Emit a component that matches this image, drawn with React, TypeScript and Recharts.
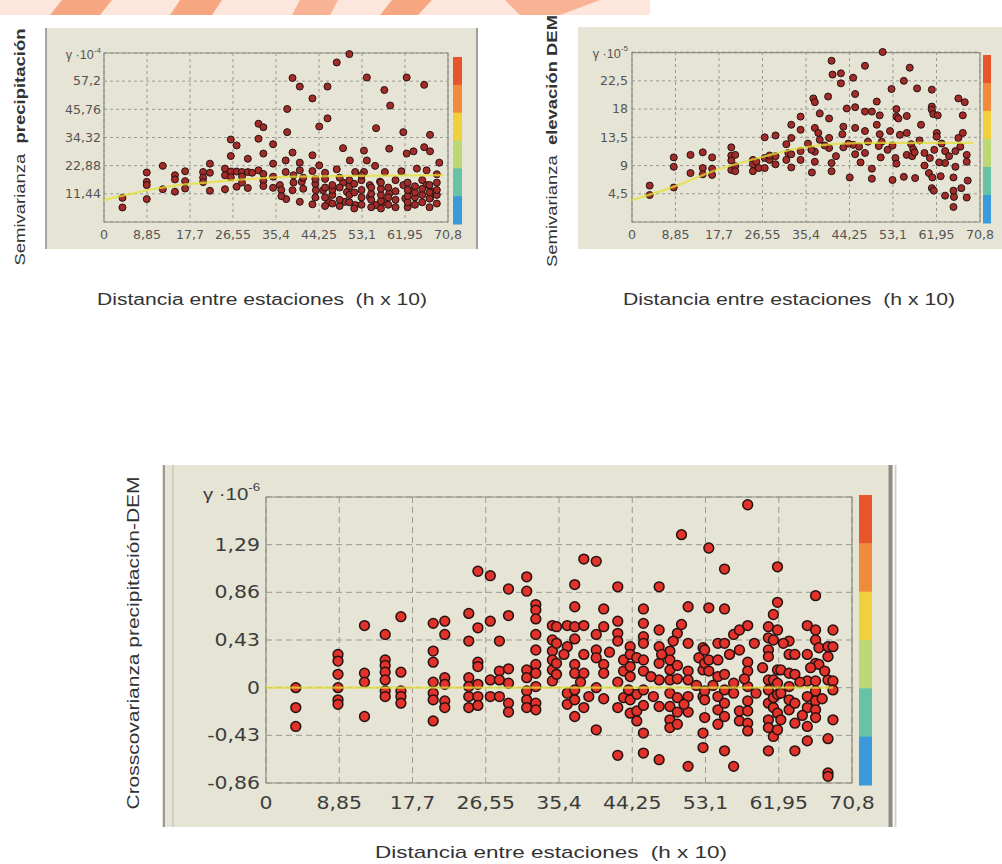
import React from 'react';
import { ScatterChart, Scatter, XAxis, YAxis, CartesianGrid, ReferenceArea } from 'recharts';

type Pt = [number, number];

// shared lag axis (h x 10)
const lagTicks = [0, 8.85, 17.7, 26.55, 35.4, 44.25, 53.1, 61.95, 70.8];
const precipTicks = [11.44, 22.88, 34.32, 45.76, 57.2, 68.64];
const demTicks = [4.5, 9, 13.5, 18, 22.5, 27];
const crossTicks = [-0.86, -0.43, 0, 0.43, 0.86, 1.29, 1.72];

// semivariance of precipitation (x 10^-4)
const precipNear: Pt[] = [
  [3.8, 9.8], [3.8, 5.9], [8.8, 20.1], [8.8, 16.3], [8.8, 15.0], [8.8, 9.3],
  [12.1, 22.8], [12.1, 13.3], [14.6, 19.0], [14.6, 17.3], [14.6, 12.3],
  [16.7, 20.6], [16.7, 16.6], [16.7, 13.6], [20.4, 20.3], [20.4, 18.0], [20.4, 16.2],
  [21.8, 23.7], [21.8, 20.0], [21.8, 12.7], [24.9, 21.7], [24.9, 19.0], [24.9, 13.3],
  [26.1, 33.5], [26.1, 26.8], [26.1, 20.5], [26.1, 18.2], [27.3, 31.1], [27.3, 20.5], [27.3, 14.3],
  [28.4, 20.3], [28.4, 18.5], [28.4, 16.0], [29.6, 25.7], [29.6, 20.3], [29.6, 13.8], [30.5, 20.0],
  [31.8, 39.9], [31.8, 33.8], [31.8, 21.0], [32.8, 38.5], [32.8, 27.8], [32.8, 19.5],
  [32.8, 16.8], [32.8, 14.6], [34.8, 31.6], [34.8, 23.7], [34.8, 18.4], [34.8, 13.9],
];
const precipFar: Pt[] = [
  [36.2, 15.0], [37.5, 9.3], [37.4, 25.0], [37.4, 20.3], [37.7, 45.9], [37.7, 36.5],
  [38.8, 58.5], [38.8, 28.2], [38.8, 12.9], [40.3, 55.0], [40.3, 24.1], [40.3, 21.0],
  [40.7, 16.3], [40.3, 8.2], [42.9, 50.2], [42.9, 27.1], [42.9, 20.7], [43.6, 12.9], [42.9, 7.2],
  [44.3, 38.8], [44.3, 23.0], [45.1, 12.9], [46.0, 42.1], [46.0, 55.0], [46.2, 8.2],
  [47.9, 64.8], [47.9, 21.4], [50.5, 68.2], [49.2, 30.0], [49.2, 16.0], [50.0, 12.2],
  [50.6, 25.0], [51.7, 20.3], [51.7, 6.9], [49.6, 8.2], [53.5, 20.3], [53.5, 29.0],
  [54.1, 58.7], [54.1, 25.0], [56.0, 38.1], [55.8, 22.8], [54.7, 15.0], [54.7, 10.2], [56.0, 6.9],
  [57.7, 53.6], [58.9, 47.3], [58.7, 29.8], [57.8, 20.3], [56.8, 16.4], [58.7, 11.6], [57.7, 8.2],
  [61.2, 20.6], [61.6, 36.5], [62.3, 58.7], [62.3, 27.8], [63.7, 28.7], [61.6, 15.0],
  [62.0, 9.6], [63.0, 12.9], [64.4, 21.7], [65.9, 55.7], [65.9, 30.4], [67.1, 35.4],
  [67.1, 28.7], [66.4, 21.0], [69.0, 24.1], [68.5, 19.4], [66.4, 15.0], [67.5, 12.4], [67.1, 9.6],
];
const precipBand: Pt[] = [
  [36.5, 13], [36.5, 10.5], [39, 16], [39, 19], [41, 13.5], [41, 18], [43.5, 10], [43.5, 15.5],
  [43.5, 17.5], [45.5, 6.5], [45.5, 10], [45.5, 14], [45.5, 17.5], [45.5, 20], [47, 7.5],
  [47, 11], [47, 13], [47, 15], [48.5, 6.5], [48.5, 9], [48.5, 14], [48.5, 18], [50.5, 8],
  [50.5, 11], [50.5, 14.5], [50.5, 17], [51.5, 5.5], [51.5, 12], [51.5, 15.5], [53, 7],
  [53, 10], [53, 13], [53, 17], [53, 19], [55, 6], [55, 9], [55, 11.5], [55, 14], [57, 5.5],
  [57, 8.5], [57, 11], [57, 13.5], [57, 16], [58.5, 7], [58.5, 10], [58.5, 14], [60, 6],
  [60, 9], [60, 12.5], [60, 17], [62.5, 6], [62.5, 8], [62.5, 10.5], [62.5, 13], [62.5, 16],
  [64, 7], [64, 10], [64, 12], [64, 14.5], [65.5, 8], [65.5, 11], [65.5, 13.5], [65.5, 17],
  [67, 6], [67, 9.5], [67, 12], [67, 15], [68.5, 7.5], [68.5, 11], [68.5, 13], [68.5, 16],
];
const precipModel: Pt[] = [
  [0, 8.9], [5, 11.2], [10, 13.3], [15, 14.9], [21, 16.0], [28, 17.2], [37.6, 18.3], [50, 18.7], [69.8, 19.0],
];

// semivariance of DEM elevation (x 10^-5)
const demNear: Pt[] = [
  [3.6, 5.8], [3.6, 4.3], [8.5, 10.3], [8.5, 8.8], [8.5, 5.5], [11.9, 10.7], [11.9, 7.8],
  [14.4, 11.1], [14.4, 8.6], [14.4, 7.6], [16.3, 10.3], [16.3, 8.5], [16.3, 7.5],
  [20.2, 11.9], [20.2, 10.6], [20.2, 9.8], [20.2, 8.3], [21.0, 10.7], [21.0, 8.9], [21.0, 8.1],
  [24.6, 9.9], [24.6, 9.2], [24.6, 8.1], [25.3, 9.6], [25.8, 8.6], [27.0, 13.5], [27.0, 10.2],
  [27.0, 8.6], [28.0, 9.9], [28.0, 10.6], [29.2, 13.8], [29.2, 10.5], [29.2, 9.2],
  [31.4, 12.4], [31.8, 11.0], [31.4, 9.9], [32.4, 15.5], [32.4, 13.4], [32.4, 10.8], [32.4, 8.7],
  [34.3, 16.8], [34.3, 14.7], [34.3, 11.3], [34.3, 9.9],
];
const demFar: Pt[] = [
  [36.9, 19.7], [37.2, 19.1], [38.2, 17.3], [37.2, 15.0], [37.9, 14.2], [38.2, 13.1], [37.2, 11.2],
  [37.2, 9.6], [36.6, 7.9], [39.9, 20.0], [40.1, 16.5], [40.1, 13.4], [40.1, 11.8], [40.6, 9.4],
  [40.6, 8.1], [40.6, 25.7], [40.8, 23.5], [42.5, 23.7], [42.5, 22.1], [43.7, 18.1], [43.0, 15.2],
  [42.8, 14.0], [43.0, 11.9], [44.3, 7.1], [45.0, 23.0], [45.4, 20.4], [45.4, 18.3], [45.4, 15.0],
  [45.0, 12.3], [45.4, 10.8], [47.4, 24.9], [47.4, 17.6], [47.4, 14.5], [47.4, 11.0], [48.8, 8.5],
  [48.8, 6.9], [48.8, 17.6], [49.8, 19.2], [49.8, 15.5], [50.4, 17.0], [50.4, 14.0], [51.0, 27.1],
  [50.8, 12.8], [50.2, 12.1], [50.6, 10.3], [52.8, 21.2], [53.0, 6.7], [53.8, 18.0], [53.8, 16.8],
  [54.2, 16.5], [54.5, 13.9], [53.6, 10.2], [53.8, 9.3], [55.3, 22.5], [55.3, 7.2], [55.9, 16.9],
  [55.9, 10.7], [56.5, 24.6], [55.9, 14.2], [56.8, 12.4], [57.2, 11.6], [57.0, 10.5], [57.5, 11.1],
  [57.6, 7.0], [58.0, 21.3], [61.0, 21.1], [61.0, 18.4], [61.0, 17.9], [61.3, 17.2], [62.0, 14.2],
  [62.0, 13.6], [62.2, 17.0], [60.6, 10.2], [60.4, 7.8], [61.1, 7.1], [61.0, 5.4], [61.4, 5.0],
  [62.8, 7.3], [63.7, 11.3], [63.7, 9.4], [63.7, 4.2], [65.5, 4.0], [65.4, 2.4], [65.4, 5.0],
  [65.4, 7.1], [65.8, 8.8], [65.8, 11.3], [66.4, 13.4], [66.4, 19.7], [67.7, 19.1], [67.3, 17.0],
  [67.3, 14.2], [68.1, 10.7], [68.1, 9.6], [68.3, 6.6], [67.0, 5.4], [68.1, 3.9],
  [44.0, 12.5], [46.2, 12.0], [46.5, 9.5], [48.0, 12.8], [52.0, 11.5], [52.5, 14.5], [58.5, 13.0],
  [59.5, 11.0], [59.5, 9.0], [61.5, 11.5], [62.5, 9.5], [63.0, 12.5], [64.5, 10.5], [66.8, 12.0],
  [58.8, 15.5], [53.0, 12.2], [35.8, 12.5], [36.5, 11.5], [39.2, 12.2], [41.5, 10.5],
];
const demModel: Pt[] = [
  [0, 3.5], [8.4, 5.6], [17.2, 8.3], [26.7, 10.4], [34.2, 11.8], [40.9, 12.4], [50, 12.6], [69.4, 12.6],
];

// cross-covariance precipitation-DEM (x 10^-6)
const crossNear: Pt[] = [
  [3.6, 0.0], [3.6, -0.18], [3.6, -0.35], [8.7, 0.30], [8.7, 0.24], [8.7, 0.12], [8.7, 0.0],
  [8.7, -0.11], [8.7, -0.15], [11.9, 0.56], [11.9, 0.13], [11.9, 0.05], [11.9, -0.26],
  [14.4, 0.48], [14.4, 0.25], [14.4, 0.20], [14.4, 0.14], [14.4, 0.07], [14.4, -0.03], [14.4, -0.08],
  [16.3, 0.64], [16.3, 0.14], [16.3, -0.03], [16.3, -0.08], [16.3, -0.14],
  [20.2, 0.58], [20.2, 0.33], [20.2, 0.23], [20.2, 0.05], [20.2, -0.05], [20.2, -0.11], [20.2, -0.30],
  [21.6, 0.60], [21.6, 0.48], [21.6, 0.09], [21.6, 0.03], [21.6, -0.12], [21.6, -0.18],
  [24.5, 0.67], [24.5, 0.42], [24.5, 0.09], [24.5, 0.01], [24.5, -0.08], [24.5, -0.18],
  [25.6, 1.05], [25.6, 0.54], [25.6, 0.23], [25.6, 0.19], [25.6, 0.03], [25.6, -0.08], [25.6, -0.16],
  [27.1, 1.01], [27.1, 0.60], [27.1, 0.07], [27.1, -0.08], [28.2, 0.42], [28.2, 0.15], [28.2, 0.07],
  [28.2, -0.08], [29.3, 0.89], [29.3, 0.65], [29.3, 0.17], [29.3, 0.04], [29.3, -0.14], [29.3, -0.22],
  [31.5, 1.00], [31.5, 0.87], [31.5, 0.16], [31.5, 0.09], [31.5, -0.03], [31.5, -0.11], [31.5, -0.18],
  [32.6, 0.75], [32.6, 0.70], [32.6, 0.62], [32.6, 0.48], [32.6, 0.34], [32.6, 0.21], [32.6, 0.13],
  [32.6, 0.01], [32.6, -0.14], [32.6, -0.20], [34.6, 0.56], [34.6, 0.43], [34.6, 0.33],
  [34.6, 0.25], [34.6, 0.16], [34.6, 0.06],
];
const crossMid: Pt[] = [
  [35.1, 0.55], [35.1, 0.40], [35.1, 0.22], [35.1, 0.12], [36.4, 0.56], [36.4, 0.37], [36.4, -0.05],
  [36.4, -0.15], [37.3, 0.93], [37.3, 0.73], [37.3, 0.55], [37.3, 0.44], [37.3, 0.21], [37.3, 0.13],
  [37.3, -0.02], [37.3, -0.11], [37.3, -0.26], [38.4, 1.16], [38.4, 0.56], [38.4, 0.30], [38.4, 0.13],
  [38.4, -0.18], [39.9, 1.14], [39.9, 0.48], [39.9, 0.34], [39.9, 0.27], [39.9, 0.0], [39.9, -0.38],
  [40.8, 0.71], [40.8, 0.55], [40.8, 0.21], [40.8, 0.13], [40.8, -0.10], [42.5, 0.91], [42.5, 0.60],
  [42.5, 0.49], [42.5, 0.42], [42.5, 0.05], [42.5, -0.18], [42.5, -0.61], [43.2, 0.25], [43.2, 0.15],
  [43.2, -0.09], [44.0, 0.37], [44.0, 0.30], [44.0, 0.19], [44.0, 0.10], [44.0, -0.11], [44.0, -0.23],
  [44.8, 0.27], [44.8, -0.06], [44.8, -0.21], [44.8, -0.30], [45.6, 0.71], [45.6, 0.58], [45.6, 0.46],
  [45.6, 0.40], [45.6, 0.25], [45.6, 0.15], [45.6, -0.02], [45.6, -0.16], [45.6, -0.41], [45.6, -0.59],
  [47.5, 0.91], [47.5, 0.52], [47.5, 0.37], [47.5, 0.22], [47.5, 0.07], [47.5, -0.17], [47.5, -0.65],
  [48.8, 0.33], [48.8, 0.25], [48.8, 0.16], [48.8, 0.07], [48.8, -0.05], [48.8, -0.17], [48.8, -0.29],
  [48.8, -0.36], [49.7, 0.49], [49.7, 0.20], [49.7, 0.08], [49.7, -0.09], [49.7, -0.22], [49.7, -0.33],
  [50.2, 1.38], [50.2, 0.57], [51.0, 0.73], [51.0, 0.40], [51.0, 0.15], [51.0, 0.07], [51.0, -0.08],
  [51.0, -0.22], [51.0, -0.71], [52.8, 0.36], [52.8, 0.16], [52.8, -0.08], [52.8, -0.41], [52.8, -0.54],
  [36.0, 0.30], [38.0, 0.05], [39.0, -0.08], [41.5, 0.32], [43.8, -0.02], [46.5, 0.10], [46.8, -0.08],
  [47.8, 0.30], [49.2, 0.42], [50.5, -0.15], [52.0, 0.02], [52.3, 0.27],
];
const crossFar: Pt[] = [
  [53.0, 0.34], [53.0, 0.22], [53.0, -0.03], [53.0, -0.11], [53.0, -0.27], [53.5, 1.26], [53.5, 0.72],
  [53.5, 0.25], [53.5, 0.15], [54.6, 0.40], [54.6, 0.25], [54.6, 0.10], [54.6, -0.08], [54.6, -0.20],
  [54.6, -0.33], [55.4, 1.07], [55.4, 0.71], [55.4, 0.40], [55.4, 0.12], [55.4, -0.02], [55.4, -0.14],
  [55.4, -0.26], [55.4, -0.57], [56.5, 0.48], [56.5, 0.04], [56.5, -0.05], [56.5, -0.71], [57.2, 0.52],
  [57.2, 0.34], [57.2, -0.21], [57.2, -0.30], [58.2, 1.65], [58.2, 0.56], [58.2, 0.23], [58.2, 0.15],
  [58.2, 0.01], [58.2, -0.12], [58.2, -0.21], [58.2, -0.32], [58.2, -0.39], [60.7, 0.55], [60.7, 0.45],
  [60.7, 0.34], [60.7, 0.28], [60.7, 0.07], [60.7, -0.02], [60.7, -0.14], [60.7, -0.29], [60.7, -0.36],
  [60.7, -0.57], [61.3, 0.66], [61.3, 0.43], [61.3, 0.07], [61.3, -0.09], [61.3, -0.18], [61.3, -0.44],
  [61.8, 1.09], [61.8, 0.77], [61.8, 0.52], [61.8, 0.16], [61.8, 0.04], [61.8, -0.06], [61.8, -0.23],
  [61.8, -0.38], [62.2, 0.16], [62.2, -0.05], [62.2, -0.29], [63.2, 0.42], [63.2, 0.30], [63.2, 0.13],
  [63.2, 0.01], [63.2, -0.11], [63.2, -0.20], [63.9, 0.30], [63.9, 0.12], [63.9, -0.14], [63.9, -0.32],
  [63.9, -0.57], [65.4, 0.56], [65.4, 0.30], [65.4, 0.06], [65.4, -0.08], [65.4, -0.18], [65.4, -0.35],
  [65.4, -0.48], [66.4, 0.83], [66.4, 0.52], [66.4, 0.43], [66.4, 0.22], [66.4, 0.06], [66.4, -0.03],
  [66.4, -0.12], [66.4, -0.20], [66.4, -0.27], [66.8, 0.36], [66.8, 0.21], [67.9, 0.37], [67.9, 0.28],
  [67.9, 0.07], [67.9, -0.46], [67.9, -0.77], [67.9, -0.80], [68.5, 0.52], [68.5, 0.37], [68.5, 0.06],
  [68.5, -0.02], [68.5, -0.29], [54.0, 0.02], [56.0, 0.30], [57.8, 0.08], [59.0, 0.40], [59.2, -0.05],
  [60.0, 0.18], [62.5, 0.40], [64.5, 0.05], [64.8, -0.25], [65.8, 0.18], [67.2, -0.10], [67.5, 0.15],
];
const crossModel: Pt[] = [[0, 0], [68.5, 0]];

const scaleColors = ['#e8552b', '#ef8b3b', '#f1d03d', '#bcd874', '#68c2a6', '#3b9ad9'];

const rows = (...lists: Pt[][]) => lists.flat().map(([x, y]) => ({ x, y }));
const fmt = (v: number) => String(v).replace('.', ',');

const TICK_FONT = '"DejaVu Sans", Verdana, sans-serif';
const TITLE_FONT = '"Liberation Sans", Arial, sans-serif';

const YTick = (props: any) => {
  const { x, y, payload, topValue, exp, fs, sx, fill, gap, topDy } = props;
  const v = payload.value;
  if (v === topValue) {
    return (
      <g transform={`translate(${x - gap},${y + topDy}) scale(${sx},1)`}>
        <text textAnchor="end" dy="0.35em" fontSize={fs} fill={fill} fontFamily={TITLE_FONT}>
          γ ·10<tspan dy={-fs * 0.55} fontSize={fs * 0.65}>{exp}</tspan>
        </text>
      </g>
    );
  }
  return (
    <g transform={`translate(${x - gap},${y}) scale(${sx},1)`}>
      <text textAnchor="end" dy="0.36em" fontSize={fs} fill={fill} fontFamily={TICK_FONT}>{fmt(v)}</text>
    </g>
  );
};

const XTick = (props: any) => {
  const { x, y, payload, fs, sx, fill, dy } = props;
  return (
    <g transform={`translate(${x},${y + dy}) scale(${sx},1)`}>
      <text textAnchor="middle" fontSize={fs} fill={fill} fontFamily={TICK_FONT}>{fmt(payload.value)}</text>
    </g>
  );
};

const dot = (r: number, fill: string, stroke: string, sw: number) => (p: any) => (
  <circle cx={p.cx} cy={p.cy} r={r} fill={fill} stroke={stroke} strokeWidth={sw} />
);

interface PanelProps {
  left: number; top: number; width: number; height: number;
  margin: { top: number; right: number; bottom: number; left: number };
  yWidth: number; xHeight: number;
  yDomain: [number, number]; yTicks: number[]; exp: string;
  points: { x: number; y: number }[]; model: { x: number; y: number }[];
  fs: number; sx: number; tickFill: string; gap: number; xdy: number; topDy: number;
  r: number; dotFill: string; sw: number; dash: string;
}

const Panel = (p: PanelProps) => (
  <div style={{ position: 'absolute', left: p.left, top: p.top }}>
    <ScatterChart width={p.width} height={p.height} margin={p.margin}>
      <CartesianGrid stroke="#9a9a92" strokeDasharray={p.dash} />
      <ReferenceArea x1={0} x2={70.8} y1={p.yDomain[0]} y2={p.yDomain[1]} fill="none" stroke="#8e8e86" strokeWidth={1.2} />
      <XAxis type="number" dataKey="x" domain={[0, 70.8]} ticks={lagTicks} interval={0} height={p.xHeight}
        axisLine={false} tickLine={false} tickSize={0} tickMargin={0}
        tick={<XTick fs={p.fs} sx={p.sx} fill={p.tickFill} dy={p.xdy} />} />
      <YAxis type="number" dataKey="y" domain={p.yDomain} ticks={p.yTicks} interval={0} width={p.yWidth}
        axisLine={false} tickLine={false} tickSize={0} tickMargin={0}
        tick={<YTick topValue={p.yDomain[1]} exp={p.exp} fs={p.fs} sx={p.sx} fill={p.tickFill} gap={p.gap} topDy={p.topDy} />} />
      <Scatter data={p.points} isAnimationActive={false}
        shape={dot(p.r, p.dotFill, '#241212', p.sw)} />
      <Scatter data={p.model} isAnimationActive={false} lineJointType="monotoneX"
        line={{ stroke: '#e6e034', strokeWidth: 2.2, strokeOpacity: 0.75 }} shape={() => <g />} />
    </ScatterChart>
  </div>
);

const ColorBar = ({ x, y, w, h }: { x: number; y: number; w: number; h: number }) => (
  <g>
    {scaleColors.map((c, i) => (
      <rect key={c} x={x} y={y + (h / scaleColors.length) * i} width={w} height={h / scaleColors.length + 0.5} fill={c} />
    ))}
  </g>
);

export default function App() {
  return (
    <div style={{ position: 'absolute', left: 0, top: 0, width: 1002, height: 864, background: '#fff', overflow: 'hidden' }}>
      <svg width={1002} height={864} style={{ position: 'absolute', left: 0, top: 0 }}>
        {/* watermark remnants on the top edge */}
        <rect x={0} y={0} width={650} height={15} fill="#fde7dc" />
        <polygon points="62,0 112,0 100,15 50,15" fill="#f6a781" />
        <polygon points="180,0 222,0 212,15 170,15" fill="#f6a781" />
        <polygon points="300,0 338,0 330,15 292,15" fill="#f7b393" />
        <polygon points="392,0 432,0 418,15 380,15" fill="#f6a781" />
        <polygon points="505,0 600,0 560,15 520,15" fill="#f7b393" />

        {/* panels */}
        <rect x={45} y={28} width={433} height={221} fill="#e6e4d4" />
        <line x1={46} y1={28} x2={46} y2={249} stroke="#a5a59c" strokeWidth={2} />
        <line x1={477} y1={28} x2={477} y2={249} stroke="#a09f98" strokeWidth={2} />
        <rect x={578} y={27} width={424} height={222} fill="#e6e4d4" />
        <rect x={162} y={465} width={731} height={362} fill="#e6e4d4" />
        <line x1={164} y1={465} x2={164} y2={827} stroke="#9a9a94" strokeWidth={2} />
        <line x1={173} y1={465} x2={173} y2={827} stroke="#c9c7b9" strokeWidth={1.5} />
        <line x1={890.5} y1={465} x2={890.5} y2={827} stroke="#8f8f8a" strokeWidth={4} />
        <line x1={895.5} y1={465} x2={895.5} y2={827} stroke="#d0d0ca" strokeWidth={2} />

        <ColorBar x={453} y={57} w={9} h={167} />
        <ColorBar x={983} y={55} w={8} h={168} />
        <ColorBar x={859} y={495} w={13} h={290} />

        {/* axis titles */}
        <text transform="translate(25,147) rotate(-90)" textAnchor="middle" fontSize={14} fill="#333"
          fontFamily={TITLE_FONT} textLength={237} lengthAdjust="spacingAndGlyphs" style={{ whiteSpace: 'pre' }}>
          {'Semivarianza  '}<tspan fontWeight="bold">precipitación</tspan>
        </text>
        <text transform="translate(557,141) rotate(-90)" textAnchor="middle" fontSize={14} fill="#333"
          fontFamily={TITLE_FONT} textLength={252} lengthAdjust="spacingAndGlyphs" style={{ whiteSpace: 'pre' }}>
          {'Semivarianza  '}<tspan fontWeight="bold">elevación DEM</tspan>
        </text>
        <text transform="translate(139,643) rotate(-90)" textAnchor="middle" fontSize={17} fill="#333"
          fontFamily={TITLE_FONT} textLength={333} lengthAdjust="spacingAndGlyphs">
          Crosscovarianza precipitación-DEM
        </text>
        <text x={262} y={305} textAnchor="middle" fontSize={16} fill="#333" fontFamily={TITLE_FONT}
          textLength={330} lengthAdjust="spacingAndGlyphs" style={{ whiteSpace: 'pre' }}>
          {'Distancia entre estaciones  (h x 10)'}
        </text>
        <text x={789} y={305} textAnchor="middle" fontSize={16} fill="#333" fontFamily={TITLE_FONT}
          textLength={332} lengthAdjust="spacingAndGlyphs" style={{ whiteSpace: 'pre' }}>
          {'Distancia entre estaciones  (h x 10)'}
        </text>
        <text x={551} y={858} textAnchor="middle" fontSize={17} fill="#333" fontFamily={TITLE_FONT}
          textLength={352} lengthAdjust="spacingAndGlyphs" style={{ whiteSpace: 'pre' }}>
          {'Distancia entre estaciones  (h x 10)'}
        </text>
      </svg>

      <Panel left={45} top={28} width={433} height={220}
        margin={{ top: 25, right: 30, bottom: 4, left: 4 }} yWidth={55} xHeight={22}
        yDomain={[0, 68.64]} yTicks={precipTicks} exp="-4"
        points={rows(precipNear, precipFar, precipBand)} model={rows(precipModel)}
        fs={12} sx={1.05} tickFill="#555" gap={3} xdy={17} topDy={2}
        r={3.5} dotFill="#a32c29" sw={1} dash="3 3" />

      <Panel left={578} top={27} width={424} height={221}
        margin={{ top: 25, right: 22, bottom: 4, left: 4 }} yWidth={50} xHeight={22}
        yDomain={[0, 27]} yTicks={demTicks} exp="-5"
        points={rows(demNear, demFar)} model={rows(demModel)}
        fs={12} sx={1.05} tickFill="#555" gap={4} xdy={17} topDy={1}
        r={3.5} dotFill="#a32c29" sw={1} dash="3 3" />

      <Panel left={162} top={465} width={731} height={362}
        margin={{ top: 32, right: 41, bottom: 8, left: 14 }} yWidth={90} xHeight={36}
        yDomain={[-0.86, 1.72]} yTicks={crossTicks} exp="-6"
        points={rows(crossNear, crossMid, crossFar)} model={rows(crossModel)}
        fs={17} sx={1.2} tickFill="#3c3c3c" gap={6} xdy={26} topDy={-3}
        r={4.9} dotFill="#e2322a" sw={1.5} dash="6 4" />
    </div>
  );
}
